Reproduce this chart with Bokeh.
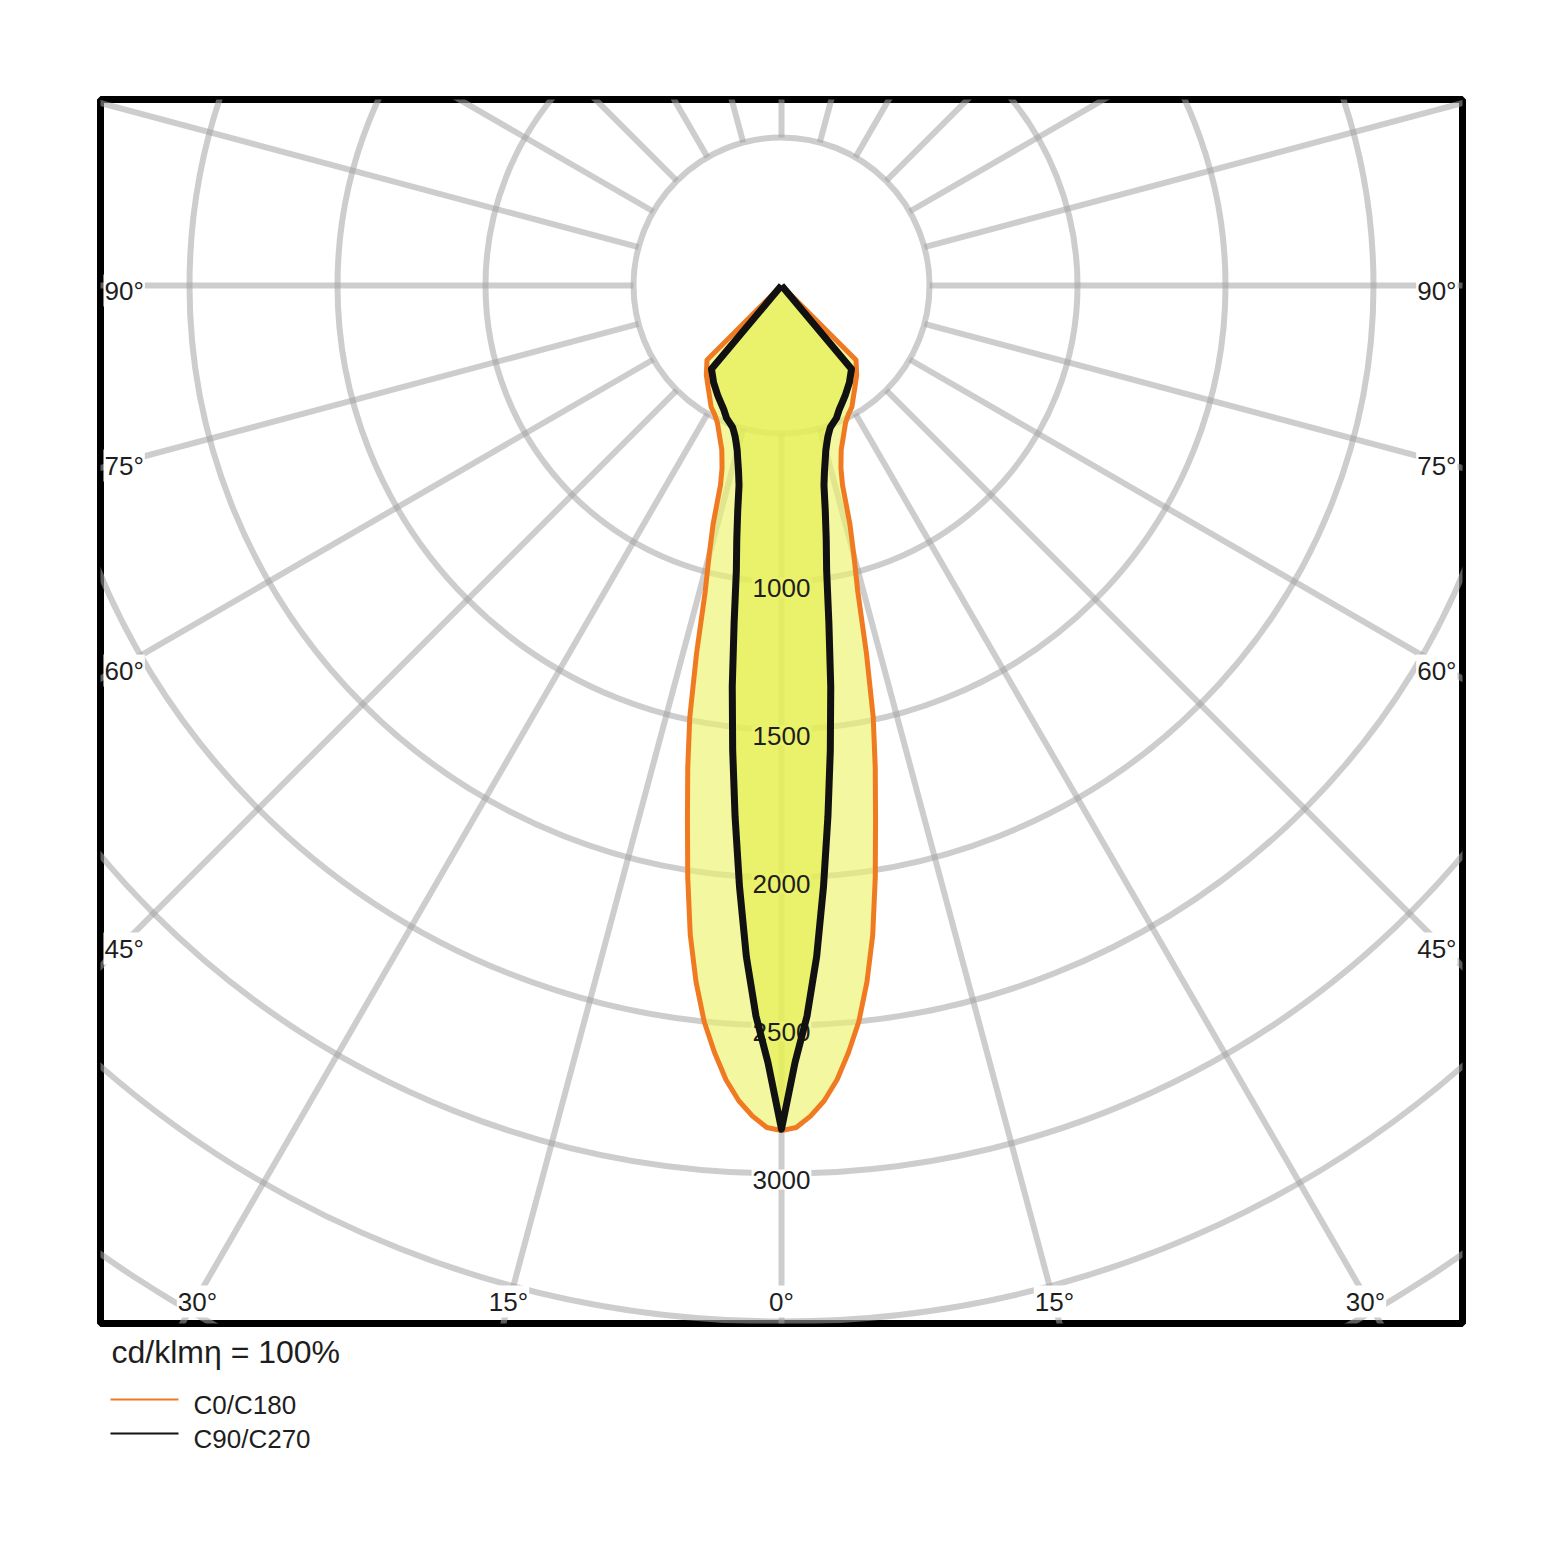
import numpy as np
from bokeh.plotting import figure
from bokeh.models import Range1d
from bokeh.layouts import column
from bokeh.embed import file_html
from bokeh.resources import INLINE
from bokeh.core.properties import value

# ---------------- data ----------------
gamma = [0, 1, 2, 3, 4, 5, 6, 7, 8, 9, 10, 11, 12, 13, 14, 15, 16, 17, 18, 19, 20,
         22.5, 25, 27.5, 30, 35, 40, 45, 50, 55, 60, 65, 70, 75, 80, 85, 90]
i_c0_c180 = [2855, 2845, 2808, 2758, 2690, 2600, 2500, 2370, 2215, 2025, 1830,
             1660, 1490, 1276, 1065, 945, 838, 705, 650, 618, 590,
             548, 512, 490, 475, 430, 395, 356, 0, 0, 0, 0, 0, 0, 0, 0, 0]
i_c90_c270 = [2850, 2625, 2470, 2270, 2035, 1800, 1578, 1365, 1150, 975, 870,
              775, 690, 645, 610, 578, 555, 535, 520, 507, 500,
              485, 462, 445, 430, 400, 368, 0, 0, 0, 0, 0, 0, 0, 0, 0, 0]
ring_values = [500, 1000, 1500, 2000, 2500, 3000, 3500, 4000]
ring_label_values = [1000, 1500, 2000, 2500, 3000]
ring_labels = ["1000", "1500", "2000", "2500", "3000"]
spoke_angles = list(range(0, 360, 15))
side_labels = ["90°", "75°", "60°", "45°"]
bottom_labels = ["30°", "15°", "0°", "15°", "30°"]
legend_names = ["C0/C180", "C90/C270"]
unit_text = "cd/klmη = 100%"

# ---------------- layout constants (page px) ----------------
S = 0.296              # px per cd
CX, CY = 781.0, 285.0  # pole
FL, FR, FT, FB = 100, 1462, 99, 1323  # frame edges
BL, BR = FL, 1544 - FR + 8            # side borders shared by both figures
LEG_TOP = FB + 6

def dx(px):
    return (px - CX) / S

def dy(py):
    return (CY - py) / S

FONT = value("Liberation Sans")
TXT = "#1e1e1e"
GRID = "#a4a4a4"
ORANGE = "#f07a22"

p = figure(frame_width=FR - FL, frame_height=FB - FT,
           min_border_left=BL, min_border_right=BR,
           min_border_top=FT, min_border_bottom=LEG_TOP - FB,
           x_range=Range1d(dx(FL), dx(FR)), y_range=Range1d(dy(FB), dy(FT)),
           x_axis_location=None, y_axis_location=None,
           toolbar_location=None, output_backend="svg")
p.xgrid.visible = False
p.ygrid.visible = False
p.outline_line_color = "black"
p.outline_line_width = 7
p.background_fill_color = "white"
p.border_fill_color = "white"

# rings
p.circle(x=[0] * len(ring_values), y=[0] * len(ring_values), radius=ring_values,
         fill_color=None, line_color=GRID, line_alpha=0.55, line_width=6)

# spokes
a = np.radians(spoke_angles)
r0, r1 = ring_values[0], 6000
p.segment(x0=r0 * np.sin(a), y0=-r0 * np.cos(a), x1=r1 * np.sin(a), y1=-r1 * np.cos(a),
          line_color=GRID, line_alpha=0.55, line_width=6)

# label positions (page px)
side_y = [290, 465, 670, 948]
bottom_x = [197, 508, 781, 1054, 1365]
bottom_y = 1301
ring_label_shift = 6

common = dict(text_font=FONT, text_font_size="26px", text_baseline="middle")

lx = [dx(103)] * len(side_labels)
rx = [dx(1457)] * len(side_labels)
sy = [dy(v) for v in side_y]
bx = [dx(v) for v in bottom_x]
by = [dy(bottom_y)] * len(bottom_labels)
ry = [-v - ring_label_shift / S for v in ring_label_values]
rxs = [0] * len(ring_labels)

bg = dict(background_fill_color="white", padding=1)
p.text(x=lx, y=sy, text=side_labels, text_align="left", text_color=TXT, **bg, **common)
p.text(x=rx, y=sy, text=side_labels, text_align="right", text_color=TXT, **bg, **common)
p.text(x=bx, y=by, text=bottom_labels, text_align="center", text_color=TXT, **bg, **common)
# white boxes behind ring labels (under the fills)
p.text(x=rxs, y=ry, text=ring_labels, text_align="center", text_alpha=0, **bg, **common)

# curves
def polar_curve(gam, inten):
    g = np.array(gam, float)
    r = np.array(inten, float)
    ang = np.radians(np.concatenate([-g[::-1], g[1:]]))
    rr = np.concatenate([r[::-1], r[1:]])
    return rr * np.sin(ang), -rr * np.cos(ang)

x0c, y0c = polar_curve(gamma, i_c0_c180)
x90, y90 = polar_curve(gamma, i_c90_c270)

p.patch(x0c, y0c, fill_color="#eaf268", fill_alpha=0.63, line_color=None)
p.patch(x90, y90, fill_color="#e4ec46", fill_alpha=0.6, line_color=None)

p.text(x=rxs, y=ry, text=ring_labels, text_align="center", text_color=TXT, **common)

p.line(x0c, y0c, line_color=ORANGE, line_width=5, line_join="round")
p.line(x90, y90, line_color="#111111", line_width=7, line_join="round")

# ---------------- legend figure (same side borders, frame aligned) ----------------
LH = 200
lg = figure(frame_width=FR - FL, frame_height=LH,
            min_border_left=BL, min_border_right=BR, min_border_top=0, min_border_bottom=0,
            x_range=Range1d(0, FR - FL), y_range=Range1d(LH, 0),
            x_axis_location=None, y_axis_location=None,
            toolbar_location=None, output_backend="svg")
lg.xgrid.visible = False
lg.ygrid.visible = False
lg.outline_line_color = None
lg.background_fill_color = "white"
lg.border_fill_color = "white"

def lxp(px):
    return px - FL

def lyp(py):
    return py - LEG_TOP

lg.text(x=[lxp(111)], y=[lyp(1351)], text=[unit_text], text_font=FONT, text_font_size="32px",
        text_baseline="middle", text_color=TXT)
lg.segment(x0=[lxp(110)] * 2, y0=[lyp(1399), lyp(1433)], x1=[lxp(178)] * 2,
           y1=[lyp(1399), lyp(1433)], line_color=[ORANGE, "#111111"], line_width=2)
lg.text(x=[lxp(193)] * 2, y=[lyp(1404), lyp(1438)], text=legend_names, text_font=FONT,
        text_font_size="26px", text_baseline="middle", text_color=TXT)

layout = column(p, lg, spacing=0)
open("out.html", "w").write(file_html(layout, INLINE))
